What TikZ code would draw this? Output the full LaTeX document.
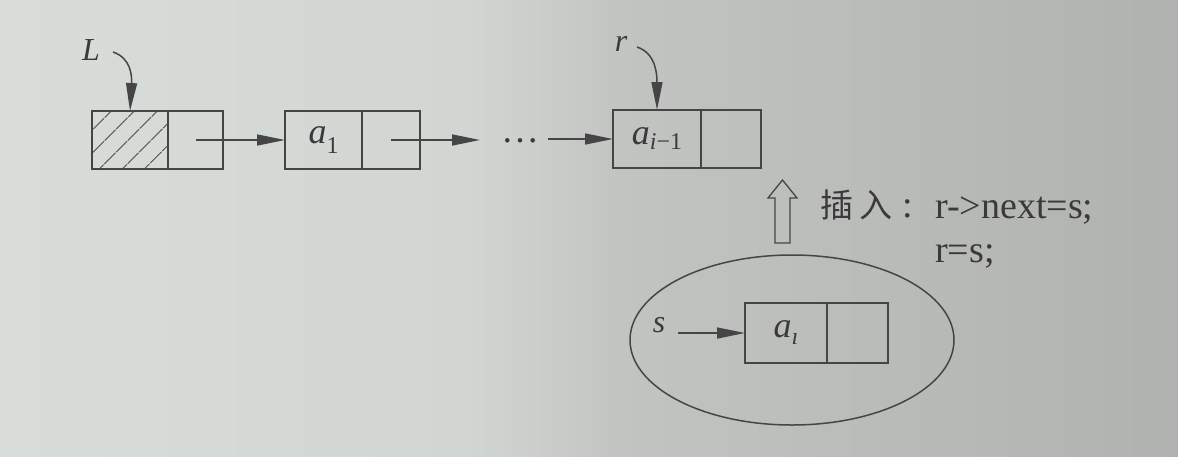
\documentclass[tikz,border=0pt]{standalone}
\usepackage{fontspec}
\setmainfont{Liberation Serif}
\newfontfamily\cjk{Noto Sans CJK SC}
\usetikzlibrary{arrows.meta,patterns.meta,shapes.geometric}
\definecolor{lnc}{HTML}{454545}
\definecolor{txc}{HTML}{3A3A3A}
\definecolor{bga}{HTML}{D9DDDA}
\definecolor{bgb}{HTML}{D2D6D3}
\definecolor{bgc}{HTML}{C2C4C1}
\definecolor{bgd}{HTML}{B0B2AF}
\newcommand\datsub[3]{\textit{#1}\raisebox{#3}{\fontsize{24}{24}\selectfont #2}}
\begin{document}
\begin{tikzpicture}[x=1pt,y=-1pt,
  ln/.style={draw=lnc, line width=1.5pt},
  cell/.style={ln, rectangle, inner sep=0pt, outer sep=0pt, anchor=north west,
    minimum height=58pt, text=txc, font=\fontsize{36}{40}\selectfont},
  ptr/.style={ln, -{Triangle[length=28pt,width=11pt]}},
  lbl/.style={text=txc, font=\fontsize{32}{36}\selectfont\itshape, inner sep=0pt},
  code/.style={text=txc, font=\fontsize{38}{44}\selectfont, inner sep=0pt, anchor=base west}
]
\useasboundingbox (0,0) rectangle (1178,456);
\shade[left color=bga, right color=bgb] (0,0) rectangle (470,456);
\shade[left color=bgb, right color=bgc] (469,0) rectangle (620,456);
\shade[left color=bgc, right color=bgd] (619,0) rectangle (1178,456);

% head node
\node[cell, minimum width=76pt,
  pattern={Lines[angle=45,distance=17pt,line width=1.3pt]}, pattern color=lnc!85] (h1) at (92,111) {};
\node[cell, minimum width=55pt] (h2) at (h1.north east) {};
% a1 node
\node[cell, minimum width=77pt] (n1d) at (285,111) {\datsub{a}{1}{-10pt}};
\node[cell, minimum width=58pt] (n1p) at (n1d.north east) {};
% a_{i-1} node
\node[cell, minimum width=88pt] (n3d) at (613,110) {\datsub{a}{\textit{i}−1}{-5pt}};
\node[cell, minimum width=60pt] (n3p) at (n3d.north east) {};
% new node s
\node[cell, minimum width=82pt, minimum height=60pt] (sd) at (745,303) {\datsub{a}{\textit{ı}}{-7pt}};
\node[cell, minimum width=61pt, minimum height=60pt] (sp) at (sd.north east) {};

% ellipse around s
\node[ellipse, ln, minimum width=324pt, minimum height=170pt, inner sep=0pt] (ell) at (792,340) {};

% labels
\node[lbl] (L) at (91,50) {L};
\node[lbl] (r) at (621,44) {r};
\node[lbl] (s) at (659,325) {s};

% pointers
\draw[ptr] (113,52) .. controls (131,58) and (132,76) .. (h1.north);
\draw[ptr] (637,47) .. controls (655,53) and (657,72) .. (n3d.north);
\draw[ptr] (h2.center) -- (n1d.west);
\coordinate (e2) at (480,140);
\draw[ptr] (n1p.center) -- (e2);
\node[text=txc, font=\fontsize{38}{38}\selectfont, inner sep=0pt] (dots) at (520,141) {…};
\coordinate (s3) at (548,139);
\draw[ptr] (s3) -- (n3d.west);
\coordinate (sa) at (678,333);
\draw[ptr] (sa) -- (sd.west);

% hollow up arrow
\draw[ln, line width=1.3pt] (775,243) -- (775,198) -- (768,198) -- (782.5,180) -- (797,198) -- (790,198) -- (790,243) -- cycle;

% texts
\node[text=txc, font=\fontsize{38}{44}\selectfont, inner sep=0pt, anchor=base west] (ins) at (820,217) {{\cjk\fontsize{33}{40}\selectfont 插\hspace{6pt}入}\hspace{10pt}:};
\node[code] (c1) at (935,218) {r->next=s;};
\node[code] (c2) at (935,262) {r=s;};
\end{tikzpicture}
\end{document}
